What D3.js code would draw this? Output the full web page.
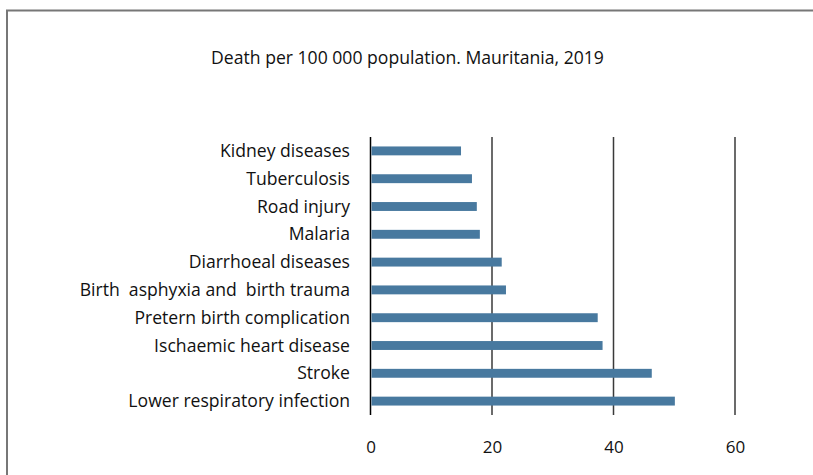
<!DOCTYPE html>
<html>
<head>
<meta charset="utf-8">
<script src="https://cdn.jsdelivr.net/npm/d3@7"></script>
<style>
  body { margin: 0; background: #fff; }
  svg text { font-family: "Open Sans", sans-serif; fill: #111; }
</style>
</head>
<body>
<div class="chart-wrapper"></div>
<script>
const causes = [
  "Kidney diseases",
  "Tuberculosis",
  "Road injury",
  "Malaria",
  "Diarrhoeal diseases",
  "Birth  asphyxia and  birth trauma",
  "Pretern birth complication",
  "Ischaemic heart disease",
  "Stroke",
  "Lower respiratory infection"
]
const deaths = [14.9, 16.7, 17.5, 18.0, 21.6, 22.3, 37.4, 38.2, 46.3, 50.1]
const xTicks = [0, 20, 40, 60]
const title = "Death per 100 000 population. Mauritania, 2019"

const width = 813
const height = 475
const margin = {top: 137, right: 78, bottom: 60, left: 370.5}

const data = causes.map((c, i) => ({cause: c, value: deaths[i]}))

let svg = d3.select(".chart-wrapper")
  .append("svg")
  .attr("width", width)
  .attr("height", height)

// frame (runs off the right and bottom edge like the source)
svg.append("path")
  .attr("d", "M7,480 V10.5 H820")
  .attr("fill", "none")
  .attr("stroke", "#777")
  .attr("stroke-width", 2)

svg.append("text")
  .attr("x", 407.5)
  .attr("y", 64)
  .attr("text-anchor", "middle")
  .style("font-size", "17.6px")
  .text(title)

let x = d3.scaleLinear().domain([0, 60]).range([margin.left, width - margin.right])
let y = d3.scaleBand().domain(causes).range([margin.top, height - margin.bottom]).paddingInner(0.68).paddingOuter(0.34)

// vertical grid lines
svg.append("g")
  .selectAll("line")
  .data(xTicks)
  .join("line")
  .attr("x1", d => x(d))
  .attr("x2", d => x(d))
  .attr("y1", margin.top)
  .attr("y2", height - margin.bottom)
  .attr("stroke", d => d === 0 ? "#000" : "#3a3a3a")
  .attr("stroke-width", 1.5)

svg.append("g")
  .selectAll("rect")
  .data(data)
  .join("rect")
  .attr("x", x(0) + 1)
  .attr("y", d => y(d.cause))
  .attr("width", d => x(d.value) - x(0) - 1)
  .attr("height", y.bandwidth())
  .attr("fill", "#48799f")

// category labels
svg.append("g")
  .selectAll("text")
  .data(data)
  .join("text")
  .attr("x", 350)
  .attr("y", d => y(d.cause) + y.bandwidth() / 2)
  .attr("dy", "0.35em")
  .attr("text-anchor", "end")
  .style("font-size", "17.6px")
  .style("white-space", "pre")
  .text(d => d.cause)

// x axis labels
let xaxis = svg.append("g")
  .attr("transform", "translate(0," + (height - margin.bottom) + ")")
  .call(d3.axisBottom(x)
    .tickValues(xTicks)
    .tickSize(0)
    .tickPadding(26))

xaxis.select(".domain").remove()
xaxis.selectAll("text")
  .style("font-size", "17px")
  .style("font-family", "\"Open Sans\", sans-serif")
  .attr("fill", "#111")
</script>
</body>
</html>
